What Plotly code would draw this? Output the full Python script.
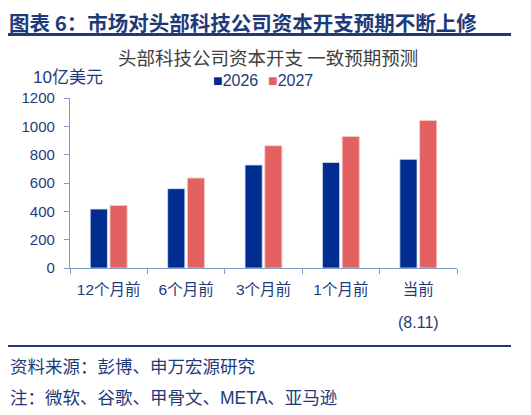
import plotly.graph_objects as go

categories = ["12个月前", "6个月前", "3个月前", "1个月前", "当前"]
capex_2026 = [416, 560, 727, 745, 767]
capex_2027 = [442, 635, 863, 929, 1042]
series_names = ["2026", "2027"]

NAVY = "#1F3A7A"
BAR_BLUE = "#002D8F"
BAR_RED = "#E46161"
AXIS = "#7D9CC8"
FONT = "Liberation Sans, Noto Sans CJK SC, sans-serif"

fig = go.Figure()
fig.add_trace(go.Bar(x=categories, y=capex_2026, name=series_names[0],
                     marker=dict(color=BAR_BLUE, line=dict(color="#D8E0F0", width=0.8))))
fig.add_trace(go.Bar(x=categories, y=capex_2027, name=series_names[1],
                     marker=dict(color=BAR_RED, line=dict(color="#F6D0D0", width=0.8))))

# the page body adds an 8px margin; figure coordinates = screen coordinates - OFF
OFF = 8
W, H = 531 - OFF, 415 - OFF
L, R, T, B = 70 - OFF, 457 - OFF, 98 - OFF, 268 - OFF


def px(x):
    return (x - OFF - L) / (R - L)


def py(y):
    return (B - (y - OFF)) / (B - T)


fig.update_layout(
    width=W, height=H,
    margin=dict(l=L, r=W - R, t=T, b=H - B),
    paper_bgcolor="white", plot_bgcolor="white",
    font=dict(family=FONT, color=NAVY, size=15),
    barmode="group", bargap=0.49, bargroupgap=0.13,
    showlegend=False,
    xaxis=dict(showline=True, linecolor=AXIS, linewidth=1.2, ticks="outside", ticklen=5,
               tickcolor=AXIS, tickson="boundaries", showgrid=False,
               tickfont=dict(size=15.5, color=NAVY), ticklabelstandoff=7),
    yaxis=dict(range=[0, 1200], dtick=200, showline=True, linecolor=AXIS, linewidth=1.2,
               ticks="outside", ticklen=5, tickcolor=AXIS, showgrid=False, zeroline=False,
               tickfont=dict(size=15, color=NAVY), ticklabelstandoff=6),
)

# legend drawn as text markers
legend_colors = [BAR_BLUE, BAR_RED]
legend_x = [213, 268]
for name, col, lx in zip(series_names, legend_colors, legend_x):
    fig.add_annotation(text=f"<span style='color:{col}'>■</span>{name}", xref="paper", yref="paper",
                       x=px(lx - 2), y=py(81), xanchor="left", yanchor="middle", showarrow=False,
                       font=dict(size=16, color=NAVY, family=FONT))


def rule(y, thickness):
    # horizontal rule drawn as a filled annotation box
    fig.add_annotation(text=" ", xref="paper", yref="paper", x=px(7), y=py(y),
                       xanchor="left", yanchor="middle", showarrow=False,
                       width=504, height=thickness, bgcolor=NAVY, borderpad=0, borderwidth=0,
                       font=dict(size=1, color=NAVY))


# header title and rules
fig.add_annotation(text="<b>图表 6：市场对头部科技公司资本开支预期不断上修</b>", xref="paper", yref="paper",
                   x=px(8), y=py(22), xanchor="left", yanchor="middle", borderpad=0,
                   showarrow=False, font=dict(size=20.5, color=NAVY, family="Noto Sans CJK SC"))
rule(34, 2.5)
fig.add_annotation(text="头部科技公司资本开支 一致预期预测", xref="paper", yref="paper",
                   x=px(268), y=py(57), xanchor="center", yanchor="middle",
                   showarrow=False, font=dict(size=18.5, color="#404040", family="Noto Sans CJK SC"))
fig.add_annotation(text="10亿美元", xref="paper", yref="paper",
                   x=px(31), y=py(77), xanchor="left", yanchor="middle",
                   showarrow=False, font=dict(size=17, color=NAVY, family=FONT))
fig.add_annotation(text="(8.11)", xref="x", yref="paper", x=categories[-1],
                   y=py(322), xanchor="center", yanchor="middle",
                   showarrow=False, font=dict(size=16, color=NAVY, family=FONT))

# footer
rule(346, 2)
fig.add_annotation(text="资料来源：彭博、申万宏源研究", xref="paper", yref="paper",
                   x=px(8), y=py(367), xanchor="left", yanchor="middle",
                   showarrow=False, font=dict(size=17.5, color=NAVY, family=FONT))
fig.add_annotation(text="注：微软、谷歌、甲骨文、META、亚马逊", xref="paper", yref="paper",
                   x=px(8), y=py(398), xanchor="left", yanchor="middle",
                   showarrow=False, font=dict(size=17.5, color=NAVY, family=FONT))

fig.write_html("out.html", config={"displayModeBar": False})
